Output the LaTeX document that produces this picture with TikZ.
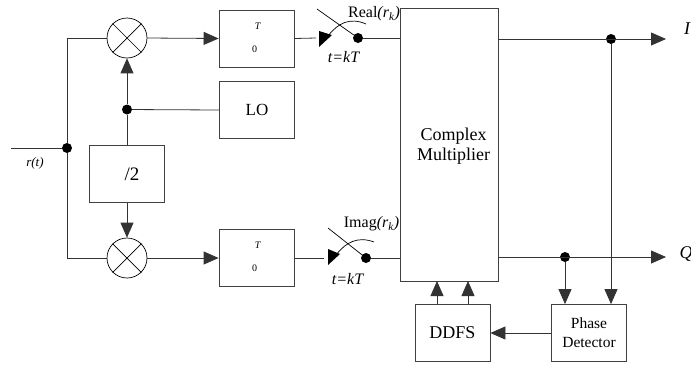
\documentclass[tikz,border=0pt]{standalone}
\usepackage{fontspec}
\setmainfont{Liberation Serif}
\usetikzlibrary{arrows.meta}
\tikzstyle{block} = [draw=black!75,line width=0.8pt,rectangle,align=center,inner sep=0pt,minimum width=75pt,minimum height=57pt]
\tikzstyle{mixer} = [draw=black,line width=0.7pt,circle,inner sep=0pt,minimum size=40pt]
\tikzstyle{dot} = [fill=black,circle,inner sep=0pt,minimum size=10pt]
\tikzstyle{wire} = [line width=0.8pt,black!80]
\tikzstyle{arrow} = [wire,-{Triangle[length=15pt,width=13pt]}]
\tikzstyle{small} = [font=\fontsize{10}{10}\selectfont]
\tikzstyle{label} = [font=\fontsize{16}{16}\selectfont]
\begin{document}
\begin{tikzpicture}[x=1pt,y=-1pt]
	\useasboundingbox (0,0) rectangle (691,368);
	% left part
	\node (mix1) [mixer] at (127,38) {};
	\node (mix2) [mixer] at (127,258) {};
	\node (int1) [block] at (256.5,38.5) {};
	\node (int2) [block] at (256.5,258) {};
	\node (lo) [block,font=\fontsize{17}{17}\selectfont] at (257,110) {LO};
	\node (half) [block,font=\fontsize{19}{19}\selectfont] at (127,174) {\hspace*{10pt}/2};
	\node (upper1) [small] at (258,26) {\textit{T}};
	\node (lower1) [small] at (254.5,49.5) {0};
	\node (upper2) [small] at (258,245) {\textit{T}};
	\node (lower2) [small] at (254.5,268.5) {0};
	\draw [line width=0.7pt] (mix1.45) -- (mix1.225);
	\draw [line width=0.7pt] (mix1.135) -- (mix1.315);
	\draw [line width=0.7pt] (mix2.45) -- (mix2.225);
	\draw [line width=0.7pt] (mix2.135) -- (mix2.315);
	\coordinate (in) at (11,148);
	\node (split) [dot] at (67,148) {};
	\node (lodot) [dot] at (127,109.5) {};
	\node (rlabel) [font=\fontsize{13}{13}\selectfont\itshape] at (35,163) {r(t)};
	\draw [wire] (in) -- (split);
	\draw [wire] (mix1.west) -| (split);
	\draw [wire] (mix2.west) -| (split);
	\draw [wire] (half.north) -- (lodot);
	\draw [arrow] (lodot) -- (mix1.south);
	\draw [wire] (lo.west) -- (lodot);
	\draw [arrow] (half.south) -- (mix2.north);
	\draw [arrow] (mix1.east) -- (int1.west);
	\draw [arrow] (mix2.east) -- (int2.west);
	% switches
	\coordinate (sw1) at (316,38);
	\coordinate (sw2) at (324,258);
	\node (sdot1) [dot] at (358,38) {};
	\node (sdot2) [dot] at (366,258) {};
	\draw [wire] (int1.east) -- (sw1);
	\draw [wire] (int2.east) -- (sw2);
	\draw [line width=0.7pt] (317,9) -- (sdot1);
	\draw [line width=0.7pt] (328,228) -- (sdot2);
	\draw [line width=0.7pt] (366,24) .. controls (350,17) and (338,23) .. (328,36);
	\draw [line width=0.7pt] (374,242) .. controls (358,236) and (346,242) .. (336,255);
	\fill (319,31) -- (319,47) -- (332,35) -- cycle;
	\fill (328,249) -- (328,265) -- (340,254) -- cycle;
	\node (tlabel1) [label] at (344,57) {\textit{t=kT}};
	\node (tlabel2) [label] at (348,279) {\textit{t=kT}};
	\node (real) [label] at (374,14) {Real\textit{(r\textsubscript{k})}};
	\node (imag) [label] at (371.5,224) {Imag\textit{(r\textsubscript{k})}};
	% right part
	\node (cmul) [block,minimum width=98pt,minimum height=273pt] at (449,144.5) {};
	\node (cmultext) [font=\fontsize{18}{20}\selectfont,align=center] at (453.5,146.5) {Complex\\Multiplier};
	\node (ddfs) [block,font=\fontsize{18}{18}\selectfont] at (452.5,333) {DDFS};
	\node (pd) [block,font=\fontsize{15.5}{19}\selectfont] at (589,333) {Phase\\Detector};
	\coordinate (iend) at (666,39);
	\coordinate (qend) at (666,257);
	\node (idot) [dot] at (611,39) {};
	\node (qdot) [dot] at (565,257) {};
	\node (ilabel) [font=\fontsize{18}{18}\selectfont\itshape] at (687,29) {I};
	\node (qlabel) [font=\fontsize{18}{18}\selectfont\itshape] at (686,254) {Q};
	\draw [wire] (sdot1) -- (sdot1 -| cmul.west);
	\draw [wire] (sdot2) -- (sdot2 -| cmul.west);
	\draw [arrow] (idot -| cmul.east) -- (iend);
	\draw [arrow] (qdot -| cmul.east) -- (qend);
	\draw [arrow] (idot) -- (idot |- pd.north);
	\draw [arrow] (qdot) -- (qdot |- pd.north);
	\draw [arrow] (pd.west) -- (ddfs.east);
	\draw [arrow] (437,304) -- (437,281);
	\draw [arrow] (468,304) -- (468,281);
\end{tikzpicture}
\end{document}
